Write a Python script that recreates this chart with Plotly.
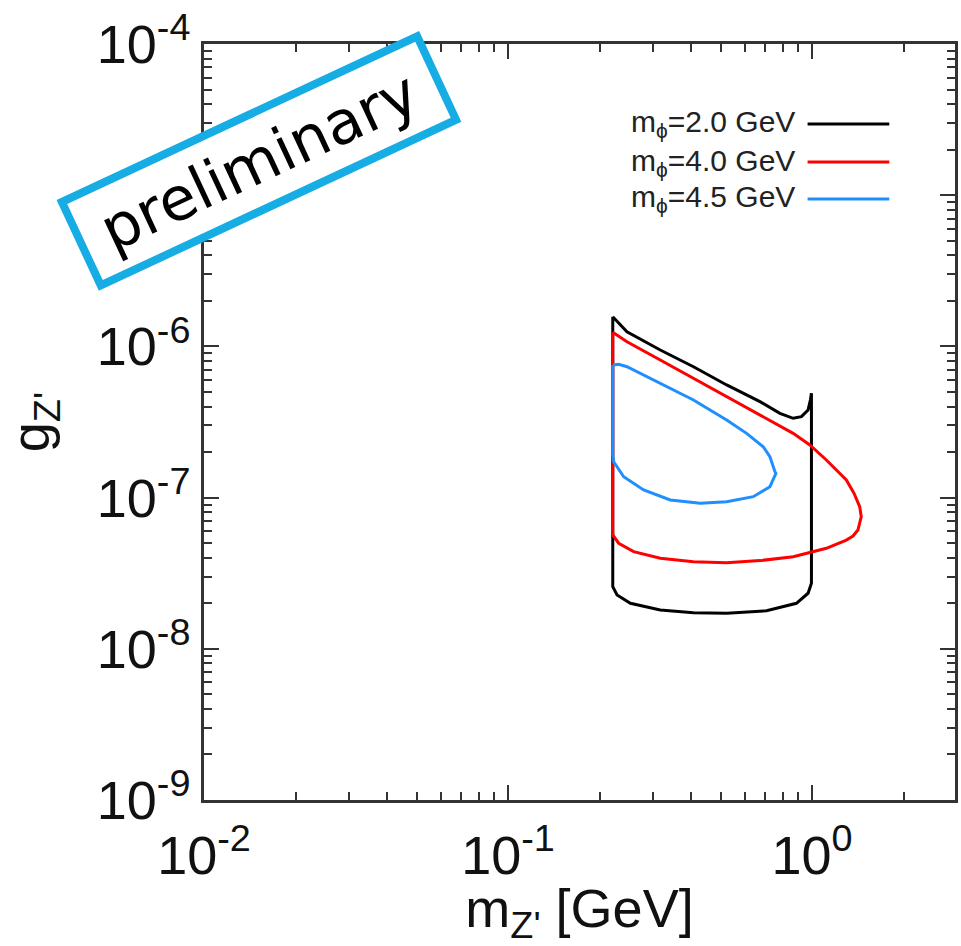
import plotly.graph_objects as go

# ---- data ----
labels = ["m<sub>\u03d5</sub>=2.0 GeV", "m<sub>\u03d5</sub>=4.0 GeV", "m<sub>\u03d5</sub>=4.5 GeV"]
colors = ["#000000", "#ff0000", "#1f8fff"]

x_m20 = [0.221, 0.2312, 0.2461, 0.3167, 0.4072, 0.5236, 0.6738, 0.7837, 0.8664, 0.9224, 0.970, 0.987, 0.995,
         0.995, 0.970, 0.888, 0.708, 0.5236, 0.4072, 0.3167, 0.2526, 0.2283, 0.221, 0.221]
y_m20 = [1.572e-6, 1.422e-6, 1.251e-6, 9.47e-7, 7.34e-7, 5.56e-7, 4.31e-7, 3.61e-7, 3.345e-7, 3.43e-7, 3.80e-7, 4.42e-7, 4.90e-7,
         2.71e-8, 2.33e-8, 2.00e-8, 1.786e-8, 1.717e-8, 1.733e-8, 1.805e-8, 2.00e-8, 2.27e-8, 2.575e-8, 1.572e-6]

x_m40 = [0.221, 0.2461, 0.3167, 0.4072, 0.5236, 0.6738, 0.8664, 0.9828, 1.114, 1.296, 1.373, 1.434, 1.451, 1.415,
         1.363, 1.296, 1.114, 0.8664, 0.6738, 0.5236, 0.4072, 0.3167, 0.2588, 0.2312, 0.221, 0.221]
y_m40 = [1.240e-6, 1.074e-6, 8.13e-7, 6.15e-7, 4.65e-7, 3.52e-7, 2.66e-7, 2.23e-7, 1.773e-7, 1.307e-7, 1.068e-7, 8.71e-8, 7.48e-8, 6.10e-8,
         5.57e-8, 5.24e-8, 4.62e-8, 4.06e-8, 3.83e-8, 3.71e-8, 3.77e-8, 3.97e-8, 4.39e-8, 4.99e-8, 5.66e-8, 1.240e-6]

x_m45 = [0.221, 0.2312, 0.2461, 0.3167, 0.4072, 0.5236, 0.609, 0.6907, 0.7266, 0.7546, 0.7603, 0.7266, 0.6406,
         0.5236, 0.4283, 0.3416, 0.2792, 0.2400, 0.2226, 0.221, 0.221]
y_m45 = [7.53e-7, 7.61e-7, 7.34e-7, 5.70e-7, 4.42e-7, 3.26e-7, 2.66e-7, 2.17e-7, 1.865e-7, 1.483e-7, 1.447e-7, 1.180e-7, 1.014e-7,
         9.40e-8, 9.17e-8, 9.64e-8, 1.123e-7, 1.374e-7, 1.727e-7, 1.913e-7, 7.53e-7]

xs = [x_m20, x_m40, x_m45]
ys = [y_m20, y_m40, y_m45]

x_major = [1e-2, 1e-1, 1e0]
x_major_text = ["10<sup>-2</sup>", "10<sup>-1</sup>", "10<sup>0</sup>"]
y_major = [1e-9, 1e-8, 1e-7, 1e-6, 1e-5, 1e-4]
y_major_text = ["10<sup>-9</sup>", "10<sup>-8</sup>", "10<sup>-7</sup>", "10<sup>-6</sup>", "", "10<sup>-4</sup>"]
x_minor = [k * 10.0 ** e for e in (-2, -1, 0) for k in range(2, 10)]
y_minor = [k * 10.0 ** e for e in (-9, -8, -7, -6, -5) for k in range(2, 10)]

fig = go.Figure()
for x, y, c in zip(xs, ys, colors):
    fig.add_trace(go.Scatter(x=x, y=y, mode="lines", line=dict(color=c, width=3),
                             showlegend=False, hoverinfo="skip"))

axis_color = "#333333"
font_main = "Liberation Sans, Arial, sans-serif"

common = dict(type="log", showgrid=False, zeroline=False, showline=True, linecolor=axis_color,
              linewidth=2.5, mirror="allticks", ticks="inside", ticklen=15, tickwidth=2,
              tickcolor=axis_color, tickmode="array",
              tickfont=dict(family=font_main, size=54, color="#111111"))

fig.update_xaxes(**common, range=[-2, 0.47], tickvals=x_major, ticktext=x_major_text,
                 ticklabelstandoff=6,
                 minor=dict(tickmode="array", tickvals=x_minor, ticks="inside", ticklen=8,
                            tickwidth=2, tickcolor=axis_color, showgrid=False),
                 title=dict(text="m<sub>Z'</sub> [GeV]", font=dict(family=font_main, size=54, color="#111111"),
                            standoff=14))
fig.update_yaxes(**common, range=[-9, -4], tickvals=y_major, ticktext=y_major_text,
                 minor=dict(tickmode="array", tickvals=y_minor, ticks="inside", ticklen=8,
                            tickwidth=2, tickcolor=axis_color, showgrid=False),
                 title=dict(text="g<sub>Z'</sub>", font=dict(family=font_main, size=54, color="#111111"),
                            standoff=36))

# custom legend (text left, line sample right)
leg_rows = [0.8942, 0.8439, 0.7950]
for lab, c, yr in zip(labels, colors, leg_rows):
    fig.add_annotation(xref="paper", yref="paper", x=0.790, y=yr, xanchor="right", yanchor="middle",
                       text=lab, showarrow=False, font=dict(family=font_main, size=30, color="#222222"))
    fig.add_shape(type="line", xref="paper", yref="paper", x0=0.8037, x1=0.9125, y0=yr, y1=yr,
                  line=dict(color=c, width=3))

# "preliminary" stamp
fig.add_annotation(xref="paper", yref="paper", x=0.0729, y=0.8452, xanchor="center", yanchor="middle",
                   text="preliminary", showarrow=False, textangle=-25,
                   font=dict(family="DejaVu Sans, sans-serif", size=60, color="#000000"),
                   bgcolor="#ffffff", bordercolor="#16ace4", borderwidth=8, borderpad=4,
                   width=376, height=76)

fig.update_layout(width=961, height=946, margin=dict(l=204, r=3, t=44, b=146),
                  plot_bgcolor="white", paper_bgcolor="white")

fig.write_html("out.html")
